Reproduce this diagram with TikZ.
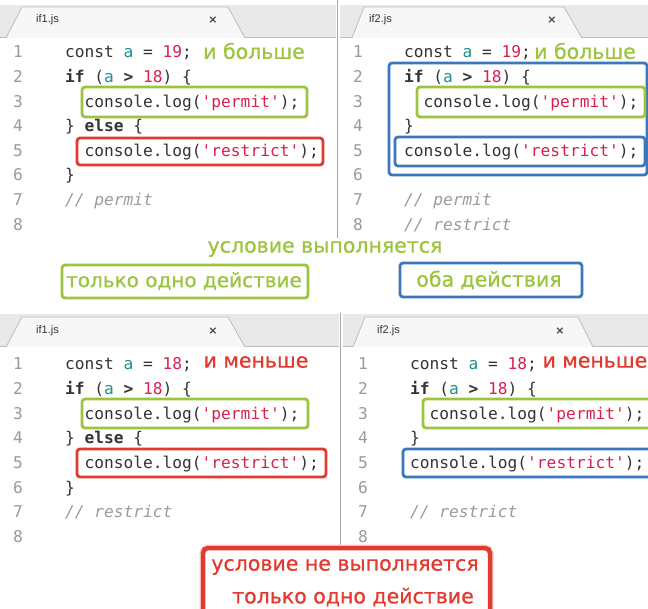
\documentclass[tikz,border=0pt]{standalone}
\usepackage{fontspec}
\setmainfont{Liberation Sans}
\newfontfamily\codefont{DejaVu Sans Mono}
\newfontfamily\notefont[FakeBold=0.8]{DejaVu Sans}
\newfontfamily\closefont{DejaVu Sans}

\definecolor{hlgreen}{HTML}{9DC43F}
\definecolor{hlred}{HTML}{E23A2F}
\definecolor{hlblue}{HTML}{3A77BF}
\definecolor{codetext}{HTML}{333333}
\definecolor{numred}{HTML}{D6204E}
\definecolor{varteal}{HTML}{21908F}
\definecolor{cmtgray}{HTML}{9B9B9B}
\definecolor{lngray}{HTML}{9A9A9A}
\definecolor{tabbar}{HTML}{E9E9E9}
\definecolor{tabface}{HTML}{F7F7F7}
\definecolor{tabedge}{HTML}{BDBDBD}

% syntax colouring helpers
\newcommand\cv[1]{\textcolor{varteal}{#1}}
\newcommand\cn[1]{\textcolor{numred}{#1}}
\newcommand\ck[1]{\textbf{#1}}
\newcommand\cc[1]{\textcolor{cmtgray}{\itshape #1}}

\tikzset{
  code/.style={font=\codefont\fontsize{16.2}{16}\selectfont, text=codetext,
    inner sep=0pt, anchor=base west},
  lnum/.style={font=\codefont\fontsize{16.2}{16}\selectfont, text=lngray,
    inner sep=0pt, anchor=base},
  tabtitle/.style={font=\fontsize{11}{11}\selectfont, text=black!80,
    inner sep=0pt, anchor=west},
  tabclose/.style={font=\closefont\bfseries\fontsize{11}{11}\selectfont,
    text=black!75, inner sep=0pt},
  note/.style={font=\notefont\fontsize{20.5}{20.5}\selectfont, inner sep=0pt},
  hlbox/.style={rounded corners=3pt, line width=2.8pt},
  tabshape/.style={fill=tabface, draw=tabedge, line width=0.8pt},
  sep/.style={draw=black!35, line width=0.8pt},
}

\begin{document}
\begin{tikzpicture}[x=1pt, y=-1pt]
\useasboundingbox (0,0) rectangle (648,609);
\clip (0,0) rectangle (648,609);
\fill[white] (0,0) rectangle (648,609);

% ---------- tab bars ----------
\fill[tabbar] (0,5) rectangle (336,37);
\fill[tabbar] (340,5) rectangle (648,37);
\fill[tabbar] (0,314) rectangle (339,346);
\fill[tabbar] (343,314) rectangle (648,346);
\draw[tabedge, line width=0.8pt] (0,37) -- (336,37) (340,37) -- (648,37)
  (0,346) -- (339,346) (343,346) -- (648,346);
\draw[tabshape] (6,38) -- (22,7) -- (228,7) -- (245,38);
\draw[tabshape] (352,38) -- (364,7) -- (564,7) -- (582,38);
\draw[tabshape] (6,347) -- (22,317) -- (228,317) -- (245,347);
\draw[tabshape] (353,347) -- (365,317) -- (578,317) -- (593,347);
\fill[tabface] (7,38) rectangle (244,40);
\fill[tabface] (353,38) rectangle (581,40);
\fill[white] (0,38.5) rectangle (336,240);
\fill[white] (340,38.5) rectangle (648,240);
\fill[white] (0,347.5) rectangle (339,609);
\fill[white] (343,347.5) rectangle (648,609);

\node[tabtitle] (t1) at (36,20) {if1.js};
\node[tabclose] (x1) at (213,20) {×};
\node[tabtitle] (t2) at (369,20) {if2.js};
\node[tabclose] (x2) at (552,20) {×};
\node[tabtitle] (t3) at (36,331) {if1.js};
\node[tabclose] (x3) at (213,331) {×};
\node[tabtitle] (t4) at (377,331) {if2.js};
\node[tabclose] (x4) at (560,331) {×};

% panel separators
\draw[sep] (337,0) -- (337,238);
\draw[sep] (340,313) -- (340,556);

% ---------- top left: if / else, a = 19 ----------
\begin{scope}
  \foreach \k in {1,...,8}
    \node[lnum] (aln\k) at (18,{58+(\k-1)*24.6}) {\k};
  \node[code] (a1) at (65,58)    {const \cv{a} = \cn{19};};
  \node[code] (a2) at (65,82.6)  {\ck{if} (\cv{a} \ck{>} \cn{18}) \{};
  \node[code] (a3) at (84.5,107.2) {console.log(\cn{'permit'});};
  \node[code] (a4) at (65,131.8) {\} \ck{else} \{};
  \node[code] (a5) at (84.5,156.4) {console.log(\cn{'restrict'});};
  \node[code] (a6) at (65,181)   {\}};
  \node[code] (a7) at (65,205.6) {\cc{// permit}};
  \node[note, text=hlgreen] (an) at (254,51) {и больше};
  \draw[hlbox, hlgreen] (82,87) rectangle (307,117);
  \draw[hlbox, hlred] (77,138) rectangle (323,165);
\end{scope}

% ---------- top right: if without else, a = 19 ----------
\begin{scope}[shift={(340,0)}]
  \foreach \k in {1,...,8}
    \node[lnum] (bln\k) at (18,{58+(\k-1)*24.6}) {\k};
  \node[code] (b1) at (64,58)    {const \cv{a} = \cn{19};};
  \node[code] (b2) at (64,82.6)  {\ck{if} (\cv{a} \ck{>} \cn{18}) \{};
  \node[code] (b3) at (83.5,107.2) {console.log(\cn{'permit'});};
  \node[code] (b4) at (64,131.8) {\}};
  \node[code] (b5) at (64,156.4) {console.log(\cn{'restrict'});};
  \node[code] (b7) at (64,205.6) {\cc{// permit}};
  \node[code] (b8) at (64,230.2) {\cc{// restrict}};
  \node[note, text=hlgreen] (bn) at (245,51) {и больше};
  \draw[hlbox, hlblue] (49,63) rectangle (307,175);
  \draw[hlbox, hlgreen] (77,87) rectangle (305,117);
  \draw[hlbox, hlblue] (55,137) rectangle (305,166);
\end{scope}

% ---------- bottom left: if / else, a = 18 ----------
\begin{scope}[shift={(0,312)}]
  \foreach \k in {1,...,8}
    \node[lnum] (cln\k) at (18,{58+(\k-1)*24.6}) {\k};
  \node[code] (c1) at (65,58)    {const \cv{a} = \cn{18};};
  \node[code] (c2) at (65,82.6)  {\ck{if} (\cv{a} \ck{>} \cn{18}) \{};
  \node[code] (c3) at (84.5,107.2) {console.log(\cn{'permit'});};
  \node[code] (c4) at (65,131.8) {\} \ck{else} \{};
  \node[code] (c5) at (84.5,156.4) {console.log(\cn{'restrict'});};
  \node[code] (c6) at (65,181)   {\}};
  \node[code] (c7) at (65,205.6) {\cc{// restrict}};
  \node[note, text=hlred] (cn) at (256,50) {и меньше};
  \draw[hlbox, hlgreen] (82,87) rectangle (308,116);
  \draw[hlbox, hlred] (77,137) rectangle (326,165);
\end{scope}

% ---------- bottom right: if without else, a = 18 ----------
\begin{scope}[shift={(345,312)}]
  \foreach \k in {1,...,8}
    \node[lnum] (dln\k) at (18,{58+(\k-1)*24.6}) {\k};
  \node[code] (d1) at (65,58)    {const \cv{a} = \cn{18};};
  \node[code] (d2) at (65,82.6)  {\ck{if} (\cv{a} \ck{>} \cn{18}) \{};
  \node[code] (d3) at (84.5,107.2) {console.log(\cn{'permit'});};
  \node[code] (d4) at (65,131.8) {\}};
  \node[code] (d5) at (65,156.4) {console.log(\cn{'restrict'});};
  \node[code] (d7) at (65,205.6) {\cc{// restrict}};
  \node[note, text=hlred, anchor=east] (dn) at (302.5,50) {и меньше};
  \draw[hlbox, hlgreen] (78,87) rectangle (320,116);
  \draw[hlbox, hlblue] (58,137) rectangle (320,165);
\end{scope}

% ---------- captions between and below the panels ----------
\node[note, text=hlgreen] (cond) at (325,249) {условие выполняется};
\node[note, text=hlgreen, font=\notefont\fontsize{20}{20}\selectfont] (one) at (184,281) {только одно действие};
\draw[hlbox, hlgreen] (62,265) rectangle (308,298);
\node[note, text=hlgreen] (both) at (489,280) {оба действия};
\draw[hlbox, hlblue] (400,263) rectangle (582,297);

\draw[rounded corners=5pt, line width=7pt, hlred!25] (203,548) rectangle (490,620);
\draw[rounded corners=5pt, line width=4.5pt, hlred, fill=white] (203,548) rectangle (490,620);
\node[note, text=hlred] (notcond) at (345,567) {условие не выполняется};
\node[note, text=hlred] (one2) at (353,597) {только одно действие};
\end{tikzpicture}
\end{document}
